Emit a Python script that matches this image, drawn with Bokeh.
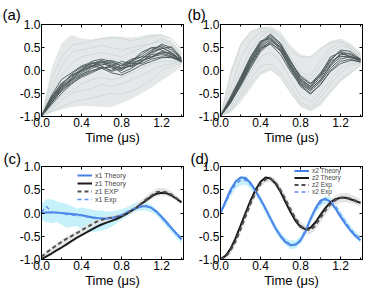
from bokeh.plotting import figure
from bokeh.layouts import gridplot
from bokeh.models import (LinearAxis, FixedTicker, PrintfTickFormatter, CustomJSTickFormatter,
                          Legend, LegendItem, Range1d)
from bokeh.embed import file_html
from bokeh.resources import INLINE

FONT = "Liberation Sans"

# ---------------- data ----------------
t10 = [0.0, 0.1, 0.2, 0.3, 0.4, 0.5, 0.6, 0.7, 0.8, 0.9, 1.0, 1.1, 1.2, 1.3, 1.4]
t05 = [0.0, 0.05, 0.1, 0.15, 0.2, 0.25, 0.3, 0.35, 0.4, 0.45, 0.5, 0.55, 0.6, 0.65,
       0.7, 0.75, 0.8, 0.85, 0.9, 0.95, 1.0, 1.05, 1.1, 1.15, 1.2, 1.25, 1.3, 1.35, 1.4]

x_ticks = [0.0, 0.4, 0.8, 1.2]
x_minor = [0.2, 0.6, 1.0, 1.4]
y_ticks = [-1.0, -0.5, 0.0, 0.5, 1.0]

# panel (a): trajectory envelope, light and dark trajectories
a_up = [-1.0, 0.05, 0.6, 0.78, 0.7, 0.68, 0.72, 0.75, 0.74, 0.72, 0.76, 0.8, 0.79, 0.66, 0.4]
a_low = [-1.0, -0.92, -0.85, -0.8, -0.78, -0.78, -0.8, -0.8, -0.72, -0.62, -0.5, -0.38, -0.22, -0.08, 0.08]
a_l1 = [-1.0, -0.2, 0.3, 0.55, 0.6, 0.65, 0.7, 0.72, 0.7, 0.65, 0.7, 0.75, 0.78, 0.7, 0.45]
a_l2 = [-1.0, -0.9, -0.8, -0.7, -0.65, -0.6, -0.55, -0.5, -0.52, -0.45, -0.35, -0.2, 0.0, 0.1, 0.15]
a_l3 = [-1.0, -0.4, 0.1, 0.4, 0.45, 0.5, 0.55, 0.5, 0.45, 0.5, 0.55, 0.6, 0.65, 0.55, 0.35]
a_l4 = [-1.0, -0.85, -0.65, -0.5, -0.45, -0.4, -0.3, -0.35, -0.3, -0.2, -0.1, 0.0, 0.1, 0.15, 0.18]
a_l5 = [-1.0, -0.5, -0.1, 0.15, 0.3, 0.35, 0.4, 0.35, 0.3, 0.4, 0.5, 0.6, 0.7, 0.6, 0.4]
a_l6 = [-1.0, -0.8, -0.55, -0.45, -0.3, -0.2, -0.15, -0.2, -0.15, -0.05, 0.05, 0.15, 0.2, 0.2, 0.2]
a_d1 = [-1.0, -0.62, -0.35, -0.15, 0.05, 0.15, 0.2, 0.05, 0.0, 0.15, 0.25, 0.4, 0.5, 0.4, 0.22]
a_d2 = [-1.0, -0.7, -0.45, -0.25, -0.1, 0.05, 0.12, 0.18, 0.1, 0.2, 0.3, 0.45, 0.55, 0.45, 0.25]
a_d3 = [-1.0, -0.55, -0.2, -0.05, 0.1, 0.18, 0.1, -0.02, 0.05, 0.1, 0.2, 0.3, 0.42, 0.35, 0.2]
a_d4 = [-1.0, -0.68, -0.4, -0.2, -0.05, 0.08, 0.15, 0.1, -0.05, 0.05, 0.2, 0.35, 0.38, 0.32, 0.18]
a_d5 = [-1.0, -0.6, -0.3, -0.1, 0.0, 0.2, 0.25, 0.2, 0.1, 0.22, 0.35, 0.5, 0.52, 0.38, 0.2]
a_d6 = [-1.0, -0.75, -0.5, -0.3, -0.12, -0.02, 0.08, 0.0, 0.12, 0.25, 0.3, 0.3, 0.35, 0.3, 0.22]
a_d7 = [-1.0, -0.65, -0.38, -0.18, 0.02, 0.12, 0.05, 0.1, 0.2, 0.15, 0.15, 0.25, 0.3, 0.28, 0.2]
a_d8 = [-1.0, -0.58, -0.28, -0.12, -0.02, 0.1, 0.18, 0.22, 0.15, 0.08, 0.18, 0.38, 0.48, 0.52, 0.28]
a_d9 = [-1.0, -0.72, -0.42, -0.22, -0.08, 0.0, 0.05, -0.05, -0.1, 0.0, 0.12, 0.2, 0.28, 0.3, 0.2]
a_d10 = [-1.0, -0.6, -0.33, -0.08, 0.08, 0.15, 0.22, 0.15, 0.05, 0.2, 0.4, 0.5, 0.45, 0.35, 0.25]
a_d11 = [-1.0, -0.66, -0.36, -0.2, 0.0, 0.1, 0.2, 0.12, 0.02, 0.12, 0.25, 0.42, 0.58, 0.5, 0.25]
a_d12 = [-1.0, -0.7, -0.44, -0.28, -0.15, -0.05, 0.05, 0.08, 0.05, 0.18, 0.22, 0.28, 0.4, 0.38, 0.22]

# panel (b)
b_up = [-1.0, 0.0, 0.6, 0.85, 0.95, 0.97, 0.85, 0.55, 0.35, 0.3, 0.5, 0.65, 0.7, 0.6, 0.4]
b_low = [-1.0, -0.92, -0.7, -0.4, -0.1, 0.0, -0.15, -0.5, -0.8, -0.9, -0.78, -0.5, -0.25, -0.08, 0.1]
b_l1 = [-1.0, -0.1, 0.55, 0.85, 0.93, 0.9, 0.75, 0.45, 0.3, 0.3, 0.48, 0.62, 0.65, 0.55, 0.35]
b_l2 = [-1.0, -0.9, -0.6, -0.3, -0.05, 0.05, -0.15, -0.48, -0.75, -0.85, -0.7, -0.45, -0.2, -0.05, 0.12]
b_l3 = [-1.0, -0.4, 0.25, 0.65, 0.85, 0.85, 0.6, 0.2, -0.1, -0.2, 0.1, 0.4, 0.55, 0.48, 0.3]
b_l4 = [-1.0, -0.8, -0.45, -0.05, 0.3, 0.4, 0.2, -0.2, -0.55, -0.7, -0.5, -0.2, 0.05, 0.15, 0.18]
b_l5 = [-1.0, -0.55, 0.0, 0.45, 0.75, 0.88, 0.7, 0.3, -0.05, -0.1, 0.2, 0.5, 0.62, 0.5, 0.32]
b_l6 = [-1.0, -0.85, -0.55, -0.2, 0.1, 0.15, -0.05, -0.35, -0.7, -0.8, -0.6, -0.3, -0.05, 0.1, 0.15]
b_d1 = [-1.0, -0.62, -0.22, 0.2, 0.55, 0.72, 0.5, 0.12, -0.22, -0.38, -0.15, 0.15, 0.35, 0.38, 0.22]
b_d2 = [-1.0, -0.7, -0.3, 0.12, 0.5, 0.62, 0.42, 0.05, -0.3, -0.45, -0.25, 0.05, 0.25, 0.3, 0.2]
b_d3 = [-1.0, -0.6, -0.18, 0.28, 0.62, 0.8, 0.58, 0.2, -0.15, -0.3, -0.05, 0.25, 0.42, 0.35, 0.25]
b_d4 = [-1.0, -0.68, -0.25, 0.18, 0.48, 0.58, 0.35, -0.02, -0.32, -0.5, -0.32, 0.0, 0.2, 0.25, 0.18]
b_d5 = [-1.0, -0.65, -0.2, 0.25, 0.6, 0.75, 0.55, 0.15, -0.2, -0.35, -0.1, 0.22, 0.45, 0.42, 0.25]
b_d6 = [-1.0, -0.72, -0.32, 0.1, 0.45, 0.65, 0.5, 0.1, -0.28, -0.42, -0.2, 0.1, 0.3, 0.32, 0.23]
b_d7 = [-1.0, -0.58, -0.15, 0.3, 0.65, 0.7, 0.45, 0.08, -0.25, -0.4, -0.22, 0.12, 0.38, 0.3, 0.2]
b_d8 = [-1.0, -0.66, -0.28, 0.15, 0.52, 0.68, 0.52, 0.18, -0.12, -0.28, -0.12, 0.2, 0.32, 0.28, 0.24]
b_d9 = [-1.0, -0.64, -0.24, 0.22, 0.58, 0.78, 0.6, 0.22, -0.18, -0.35, -0.08, 0.3, 0.4, 0.3, 0.26]
b_d10 = [-1.0, -0.7, -0.35, 0.05, 0.42, 0.6, 0.45, 0.02, -0.35, -0.52, -0.3, -0.02, 0.15, 0.22, 0.2]

# panel (c)
c_x1_theory = [0.0, 0.01, 0.01, 0.01, 0.0, -0.01, -0.02, -0.03, -0.05, -0.07, -0.09, -0.11, -0.12, -0.12,
               -0.11, -0.09, -0.05, 0.0, 0.05, 0.11, 0.14, 0.15, 0.11, 0.03, -0.08, -0.2, -0.33, -0.45, -0.57]
c_z1_theory = [-1.0, -0.94, -0.88, -0.81, -0.75, -0.68, -0.61, -0.54, -0.48, -0.42, -0.36, -0.3, -0.25, -0.21,
               -0.17, -0.13, -0.08, -0.02, 0.05, 0.12, 0.2, 0.28, 0.36, 0.42, 0.44, 0.43, 0.38, 0.31, 0.23]
c_z1_exp = [-0.95, -0.86, -0.78, -0.7, -0.63, -0.56, -0.5, -0.44, -0.38, -0.31, -0.25, -0.19, -0.15, -0.12,
            -0.1, -0.08, -0.06, -0.01, 0.05, 0.12, 0.21, 0.3, 0.38, 0.45, 0.47, 0.45, 0.4, 0.32, 0.24]
c_x1_exp = [0.02, 0.14, 0.02, 0.01, 0.0, -0.03, -0.04, -0.06, -0.05, -0.08, -0.1, -0.12, -0.11, -0.13,
            -0.1, -0.08, -0.04, 0.02, 0.08, 0.12, 0.16, 0.14, 0.1, 0.02, -0.1, -0.22, -0.34, -0.45, -0.55]
c_x1_band_up = [0.2, 0.3, 0.3, 0.25, 0.22, 0.2, 0.15, 0.1, 0.12, 0.1, 0.08, 0.05, 0.06, 0.03,
                0.03, 0.05, 0.08, 0.12, 0.18, 0.22, 0.25, 0.22, 0.18, 0.08, -0.02, -0.15, -0.28, -0.4, -0.5]
c_x1_band_low = [-0.15, -0.2, -0.22, -0.2, -0.25, -0.32, -0.3, -0.28, -0.35, -0.38, -0.42, -0.4, -0.38, -0.35,
                 -0.3, -0.22, -0.15, -0.08, -0.02, 0.03, 0.06, 0.05, 0.01, -0.05, -0.17, -0.3, -0.42, -0.55, -0.65]
c_z1_band_up = [-0.92, -0.82, -0.74, -0.66, -0.58, -0.51, -0.45, -0.39, -0.33, -0.26, -0.2, -0.14, -0.1, -0.07,
                -0.05, -0.03, -0.01, 0.04, 0.1, 0.18, 0.28, 0.38, 0.46, 0.53, 0.55, 0.53, 0.47, 0.38, 0.29]
c_z1_band_low = [-0.99, -0.92, -0.85, -0.78, -0.71, -0.64, -0.57, -0.5, -0.44, -0.38, -0.32, -0.26, -0.21, -0.18,
                 -0.15, -0.12, -0.1, -0.05, 0.0, 0.07, 0.14, 0.22, 0.3, 0.36, 0.38, 0.37, 0.33, 0.26, 0.19]

# panel (d)
d_x2_theory = [0.0, 0.25, 0.5, 0.68, 0.77, 0.76, 0.65, 0.48, 0.3, 0.1, -0.12, -0.33, -0.5, -0.63,
               -0.7, -0.69, -0.6, -0.4, -0.13, 0.1, 0.27, 0.31, 0.24, 0.1, -0.08, -0.24, -0.38, -0.5, -0.59]
d_z2_theory = [-1.0, -0.93, -0.78, -0.55, -0.28, 0.0, 0.27, 0.5, 0.68, 0.77, 0.75, 0.64, 0.46, 0.24,
               0.02, -0.17, -0.3, -0.35, -0.32, -0.2, -0.04, 0.11, 0.23, 0.3, 0.33, 0.33, 0.3, 0.26, 0.22]
d_z2_exp = [-1.0, -0.95, -0.82, -0.62, -0.36, -0.08, 0.2, 0.44, 0.63, 0.73, 0.74, 0.67, 0.5, 0.3,
            0.08, -0.12, -0.27, -0.36, -0.37, -0.27, -0.1, 0.06, 0.19, 0.28, 0.33, 0.34, 0.31, 0.27, 0.22]
d_x2_exp = [0.0, 0.22, 0.45, 0.62, 0.71, 0.72, 0.62, 0.47, 0.29, 0.08, -0.13, -0.33, -0.49, -0.61,
            -0.68, -0.68, -0.58, -0.38, -0.14, 0.07, 0.22, 0.29, 0.26, 0.14, -0.04, -0.2, -0.35, -0.47, -0.57]
d_x2_band_up = [0.06, 0.3, 0.55, 0.72, 0.8, 0.8, 0.7, 0.55, 0.37, 0.16, -0.05, -0.25, -0.41, -0.53,
                -0.6, -0.6, -0.5, -0.3, -0.06, 0.15, 0.3, 0.37, 0.34, 0.22, 0.04, -0.12, -0.27, -0.4, -0.5]
d_x2_band_low = [-0.04, 0.14, 0.36, 0.52, 0.6, 0.62, 0.53, 0.38, 0.2, -0.01, -0.22, -0.42, -0.58, -0.7,
                 -0.78, -0.77, -0.67, -0.47, -0.23, -0.02, 0.13, 0.2, 0.17, 0.05, -0.12, -0.28, -0.43, -0.55, -0.65]
d_z2_band_up = [-0.96, -0.9, -0.75, -0.54, -0.28, 0.0, 0.28, 0.52, 0.7, 0.8, 0.81, 0.74, 0.58, 0.38,
                0.16, -0.04, -0.18, -0.27, -0.28, -0.17, 0.0, 0.16, 0.29, 0.38, 0.43, 0.44, 0.41, 0.36, 0.3]
d_z2_band_low = [-1.0, -1.0, -0.89, -0.7, -0.44, -0.16, 0.12, 0.36, 0.56, 0.66, 0.67, 0.6, 0.42, 0.22,
                 0.0, -0.2, -0.36, -0.45, -0.46, -0.37, -0.2, -0.04, 0.09, 0.18, 0.23, 0.24, 0.21, 0.18, 0.14]

a_light = [a_l1, a_l2, a_l3, a_l4, a_l5, a_l6]
a_dark = [a_d1, a_d2, a_d3, a_d4, a_d5, a_d6, a_d7, a_d8, a_d9, a_d10, a_d11, a_d12]
b_light = [b_l1, b_l2, b_l3, b_l4, b_l5, b_l6]
b_dark = [b_d1, b_d2, b_d3, b_d4, b_d5, b_d6, b_d7, b_d8, b_d9, b_d10]

# ---------------- styling ----------------
BLUE = "#4680e6"
BLUE_EXP = "#5a8ff2"
BLACK = "#1c1c1c"
GRAY_DASH = "#505050"
CYAN_BAND = "#c6f1fa"
GRAY_BAND = "#e2e4e4"
LIGHT_FILL = "#e4e8e8"
LIGHT_LINE = "#d2d8d8"
DARK_LINE = "#4a5656"

BLANK = CustomJSTickFormatter(code="return '';")


def style_axis(ax, ticks, minor, show_labels, label=None):
    ax.ticker = FixedTicker(ticks=ticks, minor_ticks=minor)
    ax.axis_line_color = "black"
    ax.axis_line_width = 1
    ax.major_tick_line_color = "black"
    ax.minor_tick_line_color = "black"
    ax.major_tick_in = 3
    ax.major_tick_out = 0
    ax.minor_tick_in = 2
    ax.minor_tick_out = 0
    ax.major_label_text_font = FONT
    ax.major_label_text_color = "black"
    if show_labels:
        ax.formatter = PrintfTickFormatter(format="%.1f")
        ax.major_label_text_font_size = "12px"
        ax.major_label_standoff = 1
    else:
        ax.formatter = BLANK
        ax.major_label_text_font_size = "1px"
        ax.major_label_standoff = 0
    if label:
        ax.axis_label = label
        ax.axis_label_text_font = FONT
        ax.axis_label_text_font_size = "13px"
        ax.axis_label_text_font_style = "normal"
        ax.axis_label_text_color = "black"
        ax.axis_label_standoff = 0


def make_panel(w, h, bl, br, bt, bb, tag, tag_dx, tag_standoff):
    p = figure(width=w, height=h, x_range=Range1d(0, 1.42), y_range=Range1d(-1.01, 1.01),
               toolbar_location=None, output_backend="svg",
               min_border_left=bl, min_border_right=br, min_border_top=bt, min_border_bottom=bb)
    p.xgrid.visible = False
    p.ygrid.visible = False
    p.outline_line_color = "black"
    p.border_fill_color = "white"
    p.title.text = tag
    p.title.align = "left"
    p.title.offset = tag_dx
    p.title.text_font = FONT
    p.title.text_font_size = "15px"
    p.title.text_font_style = "normal"
    p.title.text_color = "black"
    p.title.standoff = tag_standoff
    style_axis(p.xaxis[0], x_ticks, x_minor, True, "Time (\u03bcs)")
    style_axis(p.yaxis[0], y_ticks, [], True)
    top = LinearAxis()
    style_axis(top, x_ticks, x_minor, False)
    p.add_layout(top, "above")
    right = LinearAxis()
    style_axis(right, y_ticks, [], False)
    p.add_layout(right, "right")
    return p


def traj_panel(p, up, low, light, dark):
    p.varea(x=t10, y1=low, y2=up, fill_color=LIGHT_FILL)
    p.multi_line(xs=[t10] * len(light), ys=light, line_color=LIGHT_LINE, line_width=1)
    p.multi_line(xs=[t10] * len(dark), ys=dark, line_color=DARK_LINE, line_width=1, line_alpha=0.9)


def make_legend(p, items, loc, fs, lh):
    leg = Legend(items=items, location=loc, label_text_font=FONT, label_text_font_size=fs,
                 label_height=lh, glyph_height=lh, glyph_width=15, spacing=0, padding=0, margin=0,
                 label_standoff=3, background_fill_alpha=0, border_line_alpha=0)
    p.add_layout(leg)


# panel (a)
pa = make_panel(188, 147, 41, 5, 23, 29, "(a)", -39, 4)
traj_panel(pa, a_up, a_low, a_light, a_dark)

# panel (b)
pb = make_panel(185, 147, 32, 11, 24, 29, "(b)", -33, 4)
traj_panel(pb, b_up, b_low, b_light, b_dark)

# panel (c)
pc = make_panel(188, 143, 40, 4, 15, 29, "(c)", -38, 0)
pc.varea(x=t05, y1=c_x1_band_low, y2=c_x1_band_up, fill_color=CYAN_BAND)
pc.varea(x=t05, y1=c_z1_band_low, y2=c_z1_band_up, fill_color=GRAY_BAND, fill_alpha=0.9)
rc1 = pc.line(t05, c_x1_theory, line_color=BLUE, line_width=2)
rc2 = pc.line(t05, c_z1_theory, line_color=BLACK, line_width=2)
rc3 = pc.line(t05, c_z1_exp, line_color=GRAY_DASH, line_width=2, line_dash="4 3")
rc4 = pc.line(t05, c_x1_exp, line_color=BLUE_EXP, line_width=1.5, line_dash="4 3")
make_legend(pc, [LegendItem(label="x1 Theory", renderers=[rc1]),
                 LegendItem(label="z1 Theory", renderers=[rc2]),
                 LegendItem(label="z1 EXP", renderers=[rc3]),
                 LegendItem(label="x1 Exp", renderers=[rc4])], (36, 56), "7px", 8)

# panel (d)
pd_ = make_panel(185, 143, 28, 11, 15, 29, "(d)", -30, 0)
pd_.varea(x=t05, y1=d_x2_band_low, y2=d_x2_band_up, fill_color=CYAN_BAND)
pd_.varea(x=t05, y1=d_z2_band_low, y2=d_z2_band_up, fill_color=GRAY_BAND, fill_alpha=0.9)
rd1 = pd_.line(t05, d_x2_theory, line_color=BLUE, line_width=2)
rd2 = pd_.line(t05, d_z2_theory, line_color=BLACK, line_width=2)
rd3 = pd_.line(t05, d_z2_exp, line_color=GRAY_DASH, line_width=2, line_dash="4 3")
rd4 = pd_.line(t05, d_x2_exp, line_color=BLUE_EXP, line_width=1.5, line_dash="4 3")
make_legend(pd_, [LegendItem(label="x2 Theory", renderers=[rd1]),
                  LegendItem(label="z2 Theory", renderers=[rd2]),
                  LegendItem(label="z2 Exp", renderers=[rd3]),
                  LegendItem(label="x2 Exp", renderers=[rd4])], (74, 64), "6.5px", 7)

grid = gridplot([[pa, pb], [pc, pd_]], toolbar_location=None)

open("out.html", "w").write(file_html(grid, INLINE))
